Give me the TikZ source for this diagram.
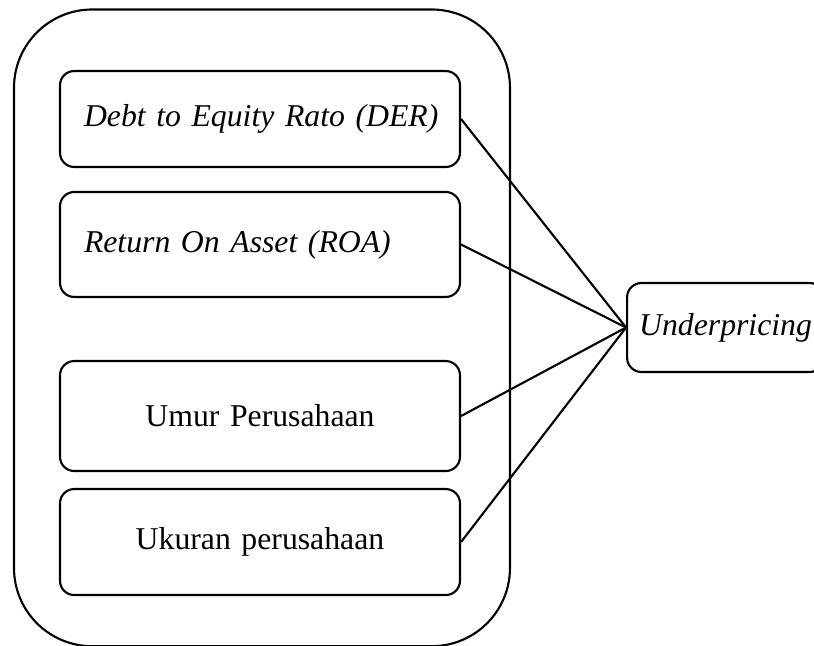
\documentclass[tikz,border=0pt]{standalone}
\usepackage{fontspec}
\setmainfont{Liberation Serif}
\begin{document}
\begin{tikzpicture}[
    box/.style={draw, rounded corners=0.19cm, line width=0.8pt, minimum width=5.314cm,
        text width=4.676cm, inner xsep=0.319cm, inner ysep=0pt,
        font=\fontsize{12pt}{14pt}\selectfont},
    target/.style={draw, rounded corners=0.19cm, line width=0.8pt, inner xsep=0.16cm,
        inner ysep=0pt, minimum height=1.182cm, font=\fontsize{12pt}{14pt}\selectfont},
    link/.style={line width=0.8pt}
]
    \useasboundingbox (0,0) rectangle (10.814,-8.569);
    % outer frame round the four variables
    \draw[line width=0.8pt, rounded corners=1.04cm] (0.186,-0.126) rectangle (6.775,-8.585);
    \node(der)[box, align=left, minimum height=1.275cm] at (3.454,-1.581) {\mbox{\textit{Debt to Equity Rato (DER)}}};
    \node(roa)[box, align=left, minimum height=1.395cm] at (3.454,-3.248) {\mbox{\textit{Return On Asset (ROA)}}};
    \node(umur)[box, align=center, minimum height=1.461cm] at (3.454,-5.527) {Umur Perusahaan};
    \node(ukuran)[box, align=center, minimum height=1.408cm] at (3.454,-7.201) {Ukuran perusahaan};
    \node(under)[target, anchor=west] at (8.317,-4.351) {\textit{Underpricing}};
    \draw[link] (der.east) -- (under.west);
    \draw[link] (roa.east) -- (under.west);
    \draw[link] (umur.east) -- (under.west);
    \draw[link] (ukuran.east) -- (under.west);
\end{tikzpicture}
\end{document}
